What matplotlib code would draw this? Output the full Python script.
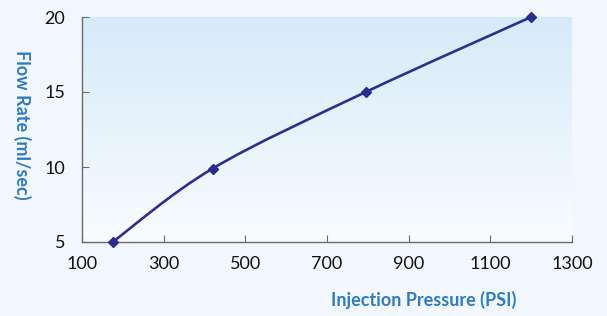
import numpy as np
import matplotlib
matplotlib.use("Agg")
import matplotlib.pyplot as plt
from matplotlib.path import Path
from matplotlib.patches import PathPatch
from matplotlib.transforms import IdentityTransform

pressure = [175, 420, 795, 1200]
flow = [5.0, 9.9, 15.0, 20.0]
x_ticks = [100, 300, 500, 700, 900, 1100, 1300]
y_ticks = [5, 10, 15, 20]
x_label = "Injection Pressure (PSI)"
y_label = "Flow Rate (ml/sec)"

plt.rcParams['font.family'] = ['Lato', 'DejaVu Sans']

fig = plt.figure(figsize=(6.07, 3.16), dpi=100)
fig.patch.set_facecolor('#f1f7fc')
ax = fig.add_axes([82/607, 1-242/316, 490/607, 225/316])

# gradient plot area (blue at top, near white at bottom)
grad = np.linspace(0, 1, 256).reshape(-1, 1)
top = np.array([0.84, 0.92, 0.975])
bot = np.array([0.975, 0.988, 0.997])
img = top[None, None, :] * (1 - grad[..., None]) + bot[None, None, :] * grad[..., None]
ax.imshow(img, extent=[100, 1300, 5, 20], origin='upper', aspect='auto', zorder=0)
ax.set_xlim(100, 1300)
ax.set_ylim(5, 20)
ax.set_facecolor('none')

# smooth curve (Catmull-Rom -> Bezier in display space)
fig.canvas.draw()
pts = ax.transData.transform(np.column_stack([pressure, flow]))
verts = [tuple(pts[0])]
codes = [Path.MOVETO]
n = len(pts)
for i in range(n - 1):
    p0 = pts[i - 1] if i > 0 else pts[i]
    p1 = pts[i]
    p2 = pts[i + 1]
    p3 = pts[i + 2] if i + 2 < n else pts[i + 1]
    c1 = p1 + (p2 - p0) / 6.0
    c2 = p2 - (p3 - p1) / 6.0
    verts += [tuple(c1), tuple(c2), tuple(p2)]
    codes += [Path.CURVE4] * 3
path = Path(verts, codes)
patch = PathPatch(path, facecolor='none', edgecolor='#2e2f8c', lw=1.9,
                  transform=IdentityTransform(), zorder=3)
ax.add_artist(patch)
ax.plot(pressure, flow, linestyle='none', marker='D', ms=5,
        color='#2b2d8e', zorder=4, clip_on=False)

for s in ['top', 'right']:
    ax.spines[s].set_visible(False)
for s in ['left', 'bottom']:
    ax.spines[s].set_color('#6b6b6b')
    ax.spines[s].set_linewidth(1.0)

ax.set_xticks(x_ticks)
ax.set_yticks(y_ticks)
ax.set_xticklabels([str(v) for v in x_ticks])
ax.set_yticklabels([str(v) for v in y_ticks])
ax.tick_params(direction='in', length=5, color='#6b6b6b', labelsize=13,
               labelcolor='#111111')
ax.tick_params(axis='x', pad=10)
ax.tick_params(axis='y', pad=12)

fig.text(424/607, 1-300/316, x_label, ha='center', va='center',
         fontsize=13, fontweight='bold', color='#2f7bbf')
fig.text(22/607, 1-125/316, y_label, ha='center', va='center',
         rotation=270, fontsize=13, fontweight='bold', color='#2f7bbf')

fig.savefig('out.png', dpi=100, facecolor=fig.get_facecolor())
